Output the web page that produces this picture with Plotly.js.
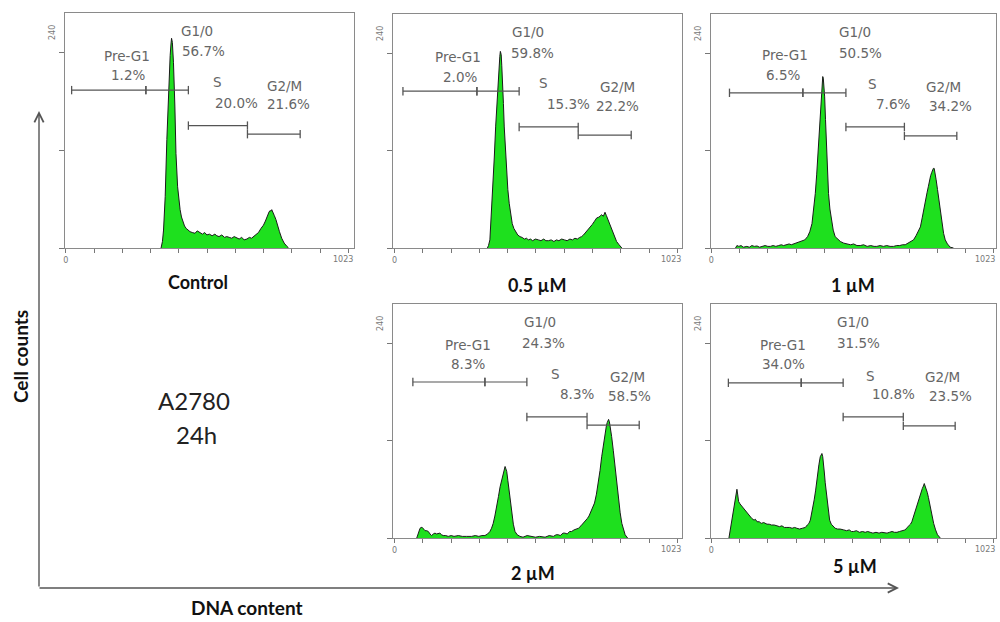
<!DOCTYPE html>
<html><head><meta charset="utf-8">
<script src="https://cdn.plot.ly/plotly-3.0.1.min.js"></script>
<style>html,body{margin:0;padding:0;background:#fff}#chart{width:1000px;height:622px}</style>
</head><body><div id="chart"></div>
<script>
// ---------- DATA (channel = DNA content, count = cells) ----------
const ctrlX = [345,350,354,360,366,372,378,381,383,386,390,395,399,405,410,414,419,424,430,436,443,450,458,468,476,486,495,503,511,520,530,540,547,555,565,575,583,592,601,610,619,628,637,646,656,665,673,680,689,698,707,716,723,730,736,740,743,746,750,755,761,767,774,782,791,801,807];
const ctrlY = [0,8,22,63,133,194,236,250,257,252,227,174,116,75,58,47,38,32,27,24,22,20,19,18,21,19,17,19,16,17,15,17,15,14,16,13,14,13,12,14,12,11,13,10,11,13,12,14,16,19,24,28,33,40,44,46,45,47,43,40,35,27,20,12,6,2,0];

const d05X = [336,340,345,351,356,361,366,370,374,378,381,383,386,388,391,394,397,401,406,410,415,420,426,432,438,446,454,462,470,478,484,492,500,510,521,530,540,548,557,567,577,586,595,605,615,625,635,644,653,662,670,677,684,692,700,708,716,724,732,740,746,750,756,762,767,774,780,786,795,804,813,823];
const d05Y = [0,3,10,43,85,112,150,174,205,223,236,242,238,225,207,178,149,120,92,72,55,41,30,24,20,16,14,13,11,12,10,11,9,11,10,9,11,9,9,10,8,10,9,11,10,9,11,10,12,11,13,14,16,19,22,25,29,33,37,38,40,41,39,44,40,34,28,22,15,8,4,0];

const d1X = [88,93,100,108,116,124,129,138,147,156,166,175,185,195,205,214,224,234,244,254,262,272,282,290,298,308,318,329,339,349,357,365,371,377,382,387,391,395,399,402,404,406,409,411,414,417,421,425,430,435,442,449,458,468,480,492,505,516,528,540,552,565,578,590,600,612,624,636,648,661,672,683,693,703,713,723,733,742,750,758,765,770,776,782,787,791,795,799,802,805,808,811,815,820,825,830,836,842,848,856,866,878];
const d1Y = [0,3,2,3,1,2,2,1,3,2,2.5,1,2,3,2,2,3,2,3,4,3,4,5,4,5,6,7,8,10,14,20,30,47,67,90,116,143,170,192,207,211,209,199,186,158,129,97,67,48,34,22,14,11,8,6,5,4,5,3,3,4,2,3,2,2,3,2,3,2,2,3,3,4,4,6,8,10,15,20,26,38,48,59,68,76,84,89,93,96,98,98,93,84,72,59,45,30,18,10,5,1,0];

const d2X = [80,83,88,92,96,100,105,110,116,122,128,134,140,146,152,158,164,170,176,185,194,205,215,231,245,260,279,292,305,316,327,337,345,351,357,363,370,376,382,387,391,395,398,400,402,406,410,414,419,424,430,436,444,454,465,480,496,510,525,545,560,575,585,593,600,610,617,625,634,641,650,658,666,675,683,690,698,704,708,714,719,724,731,738,744,750,756,762,767,770,772,775,778,782,786,792,798,804,811,817,823,829,835,844];
const d2Y = [0,3,10,12,13,13,11,9,9,8,5,3,5,6,5,6,6,4,3,3,2,3,2,3,2,2,2,3,2,3,3,5,8,12,18,27,38,51,63,71,77,82,87,88,86,82,71,59,45,30,17,8,4,2,1,3,2,1,2,1,3,2,4,4,3,6,6,5,8,8,10,11,12,15,18,20,24,27,30,35,38,43,54,67,83,100,115,129,138,142,145,146,143,136,125,108,88,68,47,31,18,10,4,0];

const d5X = [64,68,73,79,84,87,90,93,96,99,104,111,118,124,129,135,141,147,155,160,166,174,181,190,202,210,218,228,238,247,256,265,274,284,293,302,310,320,330,341,348,354,359,364,369,373,378,382,385,390,395,398,401,404,407,410,413,417,422,429,435,442,449,458,467,480,490,500,508,516,526,537,548,558,567,576,586,597,608,618,628,637,646,655,664,673,682,690,697,703,710,716,722,727,733,739,745,751,756,761,765,769,772,775,779,783,787,791,796,801,806,813,820,830];
const d5Y = [0,8,18,30,42,49,56,60,53,45,42,39,36,34,32,29,26,24,22,23,20,20,18,19,17,17,16,16,15,14,15,13,13,13,12,13,12,11,12,13,16,18,22,30,38,47,58,70,80,90,100,103,104,100,92,80,68,55,39,22,17,14,12,11,11,10,9,10,8,8,9,7,8,7,8,7,6,7,6,7,6,6,7,8,7,7,8,9,10,10,13,15,17,20,27,34,41,47,52,57,61,64,67,64,61,56,50,43,33,25,18,10,4,0];

// gate boundaries (channels): Pre-G1 | G1/0 | S | G2/M
const gateNames = ['Pre-G1','G1/0','S','G2/M'];
const ctrlGates = [21,290,444,658,849];
const d05Gates  = [30,298,451,665,857];
const d1Gates   = [66,332,488,700,890];
const d2Gates   = [66,327,479,697,886];
const d5Gates   = [62,326,478,696,884];

const ctrlPct = ['1.2%','56.7%','20.0%','21.6%'];
const d05Pct  = ['2.0%','59.8%','15.3%','22.2%'];
const d1Pct   = ['6.5%','50.5%','7.6%','34.2%'];
const d2Pct   = ['8.3%','24.3%','8.3%','58.5%'];
const d5Pct   = ['34.0%','31.5%','10.8%','23.5%'];

const panelTitles = ['Control','0.5 \u00b5M','1 \u00b5M','2 \u00b5M','5 \u00b5M'];
const xTickLabels = ['0','1023'];
const yTicks = [0,120,240];

// ---------- LAYOUT (positions in pixels / data units) ----------
const W = 1000, H = 622;
const panels = [
  {x:ctrlX, y:ctrlY, g:ctrlGates, p:ctrlPct, box:[65,13,354,248], xr:[-3,1044], t:[198,282],
   lv:[193.5,150,139.5],
   lp:[[222,235],[225,212],[476,266],[497,241],[548,203],[620,178],[794,198],[805,176]]},
  {x:d05X, y:d05Y, g:d05Gates, p:d05Pct, box:[393,14,682,248], xr:[-6,1041], t:[537,285],
   lv:[193,149,139],
   lp:[[229,235],[237,210],[483,266],[501,240],[541,203],[628,177],[806,198],[809,175]]},
  {x:d1X, y:d1Y, g:d1Gates, p:d1Pct, box:[711,14,996,248], xr:[-1,1032], t:[853,285],
   lv:[191,149,138],
   lp:[[268,238],[261,213],[522,266],[540,240],[584,202],[660,177],[841,198],[866,175]]},
  {x:d2X, y:d2Y, g:d2Gates, p:d2Pct, box:[393,304,682,538], xr:[-6,1041], t:[533,573],
   lv:[192,149,139],
   lp:[[266,238],[266,214],[527,266],[538,240],[581,202],[661,177],[842,198],[849,175]]},
  {x:d5X, y:d5Y, g:d5Gates, p:d5Pct, box:[711,304,996,538], xr:[-1,1032], t:[855,566],
   lv:[191,149,138],
   lp:[[261,238],[261,214],[515,266],[533,240],[576,200],[660,177],[837,198],[866,175]]}
];

const gateFont = {family:'DejaVu Sans, sans-serif', size:13.5, color:'#666'};
const smallFont = {family:'DejaVu Sans, sans-serif', size:8, color:'#777'};
const xt = []; const xtt = [];
for (let k=0;k<=10;k++){ xt.push(102.4*k); xtt.push(k===0?xTickLabels[0]:''); }

const traces = [];
const layout = {
  width:W, height:H, margin:{l:0,r:0,t:0,b:0},
  paper_bgcolor:'#fff', plot_bgcolor:'#fff', showlegend:false,
  annotations:[], shapes:[]
};

panels.forEach((P,i)=>{
  const s = i===0 ? '' : String(i+1);
  const xa = 'x'+s, ya = 'y'+s;
  // histogram
  traces.push({type:'scatter', mode:'lines', x:P.x, y:P.y, xaxis:xa, yaxis:ya,
    fill:'tozeroy', fillcolor:'#1ee01e', line:{color:'#1a1a1a', width:1, shape:'linear'},
    hoverinfo:'skip'});
  // gates
  const g = P.g;
  const gx = [g[0],g[1],null,g[1],g[2],null,g[2],g[3],null,g[3],g[4]];
  const gy = [P.lv[0],P.lv[0],null,P.lv[0],P.lv[0],null,P.lv[1],P.lv[1],null,P.lv[2],P.lv[2]];
  traces.push({type:'scatter', mode:'lines+markers', x:gx, y:gy, xaxis:xa, yaxis:ya,
    line:{color:'#555', width:1.2}, connectgaps:false,
    marker:{symbol:'line-ns-open', size:6, line:{color:'#444', width:1.3}}, hoverinfo:'skip'});

  const [L,T,R,B] = P.box;
  layout['xaxis'+s] = {anchor:ya, domain:[L/W, R/W], range:P.xr, tickvals:xt, ticktext:xtt,
    ticks:'outside', ticklen:4, tickcolor:'#777', tickwidth:1, ticklabeloverflow:'allow',
    tickfont:smallFont,
    showline:true, mirror:true, linecolor:'#8a8a8a', linewidth:1.2,
    showgrid:false, zeroline:false, fixedrange:true};
  layout['yaxis'+s] = {anchor:xa, domain:[1-B/H, 1-T/H], range:[0,288], tickvals:yTicks,
    showticklabels:false, ticks:'outside', ticklen:5, tickcolor:'#777', tickwidth:1,
    showline:true, mirror:true, linecolor:'#8a8a8a', linewidth:1.2,
    showgrid:false, zeroline:false, fixedrange:true};

  // "1023" end label
  layout.annotations.push({xref:xa+' domain', yref:ya+' domain', x:1, y:0, xshift:1, yshift:-5,
    text:xTickLabels[1], showarrow:false, xanchor:'right', yanchor:'top', font:smallFont});
  // "240" label
  layout.annotations.push({xref:xa+' domain', yref:ya+' domain', x:0, y:1, xshift:-13, yshift:-20,
    text:'240', textangle:-90, showarrow:false, xanchor:'center', yanchor:'middle', font:smallFont});

  // gate labels
  for (let k=0;k<4;k++){
    const np = P.lp[2*k], pp = P.lp[2*k+1];
    layout.annotations.push({xref:xa, yref:ya, x:np[0], y:np[1], text:gateNames[k],
      showarrow:false, xanchor:'center', yanchor:'middle', font:gateFont});
    layout.annotations.push({xref:xa, yref:ya, x:pp[0], y:pp[1], text:P.p[k],
      showarrow:false, xanchor:'center', yanchor:'middle', font:gateFont});
  }
  // panel title
  layout.annotations.push({xref:'paper', yref:'paper', x:P.t[0]/W, y:1-P.t[1]/H,
    text:'<b>'+panelTitles[i]+'</b>', showarrow:false, xanchor:'center', yanchor:'middle',
    font:{family:'Lato, Open Sans, sans-serif', size:18, color:'#111'}});
});

// big axes with arrows
layout.annotations.push({xref:'paper', yref:'paper', x:39/W, y:1-111/H, ax:0, ay:477,
  text:'', showarrow:true, arrowhead:5, arrowsize:1.3, arrowwidth:1.4, arrowcolor:'#555', standoff:0});
layout.annotations.push({xref:'paper', yref:'paper', x:899/W, y:1-588/H, ax:-861, ay:0,
  text:'', showarrow:true, arrowhead:5, arrowsize:1.3, arrowwidth:1.4, arrowcolor:'#555', standoff:0});

layout.annotations.push({xref:'paper', yref:'paper', x:20/W, y:1-357/H, text:'<b>Cell counts</b>',
  textangle:-90, showarrow:false, xanchor:'center', yanchor:'middle',
  font:{family:'Lato, Open Sans, sans-serif', size:19, color:'#111'}});
layout.annotations.push({xref:'paper', yref:'paper', x:247/W, y:1-607/H, text:'<b>DNA content</b>',
  showarrow:false, xanchor:'center', yanchor:'middle',
  font:{family:'Lato, Open Sans, sans-serif', size:19, color:'#111'}});
layout.annotations.push({xref:'paper', yref:'paper', x:194/W, y:1-400/H, text:'A2780',
  showarrow:false, xanchor:'center', yanchor:'middle',
  font:{family:'Lato, Open Sans, sans-serif', size:24, color:'#222'}});
layout.annotations.push({xref:'paper', yref:'paper', x:196/W, y:1-434/H, text:'24h',
  showarrow:false, xanchor:'center', yanchor:'middle',
  font:{family:'Lato, Open Sans, sans-serif', size:24, color:'#222'}});

Plotly.newPlot('chart', traces, layout, {staticPlot:true, displayModeBar:false});
</script></body></html>
